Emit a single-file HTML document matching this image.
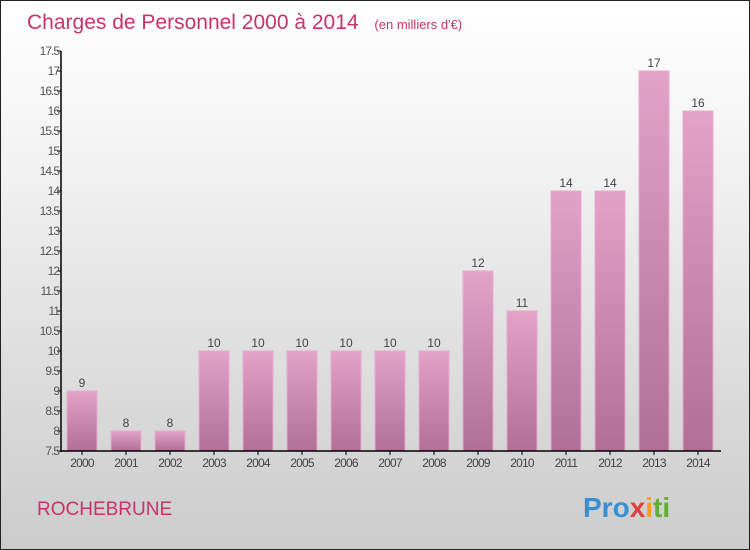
<!DOCTYPE html>
<html><head><meta charset="utf-8"><style>
body{margin:0}
#c{width:748px;height:548px;border:1px solid #222;background:linear-gradient(#ffffff,#f2f2f2 30%,#d6d6d6 80%,#cccccc);position:relative;font-family:"Liberation Sans",sans-serif;overflow:hidden}
</style></head><body>
<div id="c">
<svg id="s" width="748" height="548">
<defs><linearGradient id="g" x1="0" y1="0" x2="0" y2="1"><stop offset="0" stop-color="#e3a3c9"/><stop offset="1" stop-color="#b06f96"/></linearGradient></defs>
<text x="26" y="28" font-size="21" fill="#c8336a">Charges de Personnel 2000 à 2014 <tspan font-size="13" dx="10">(en milliers d'€)</tspan></text>
<text x="36" y="514" font-size="19" fill="#c8336a">ROCHEBRUNE</text>
<text x="582" y="516" font-size="28" font-weight="bold" fill="#3a8fd0">Pro<tspan fill="#e04040">x</tspan><tspan fill="#f0a020">i</tspan><tspan fill="#60b030">ti</tspan></text>
<g id="plot"></g>
</svg></div>
<script>
const years=["2000","2001","2002","2003","2004","2005","2006","2007","2008","2009","2010","2011","2012","2013","2014"];
const values=[9,8,8,10,10,10,10,10,10,12,11,14,14,17,16];
const yTicks=[7.5,8,8.5,9,9.5,10,10.5,11,11.5,12,12.5,13,13.5,14,14.5,15,15.5,16,16.5,17,17.5];
const ns="http://www.w3.org/2000/svg";
const g=document.getElementById('plot');
const y=v=>450-(v-7.5)*40;
const xc=i=>81+i*44;
function el(t,a,txt){const e=document.createElementNS(ns,t);for(const k in a)e.setAttribute(k,a[k]);if(txt!==undefined)e.textContent=txt;g.appendChild(e);return e;}
yTicks.forEach(v=>{
 const l=el('line',{x1:56,x2:60,y1:y(v),y2:y(v),stroke:'#000'});
 
 
 const t=el('text',{x:58,y:y(v)+4,'font-size':12,fill:'#555','text-anchor':'end','letter-spacing':'-1'},String(v));
 
 
});
values.forEach((v,i)=>{
 const r=el('rect',{x:xc(i)-15,y:y(v),width:30,height:450-y(v),fill:'url(#g)',stroke:'#e8a8d0','stroke-width':1});
 
 
 const t=el('text',{x:xc(i),y:y(v)-4,'font-size':12,fill:'#444','text-anchor':'middle'},String(v));
 
 
 const k=el('line',{x1:xc(i),x2:xc(i),y1:450,y2:454,stroke:'#000'});
 
 
 const x=el('text',{x:xc(i),y:466,'font-size':12,fill:'#444','text-anchor':'middle','letter-spacing':'-0.8'},years[i]);
 
 
});
const ya=el('line',{x1:60,x2:60,y1:50,y2:451,stroke:'#000','stroke-width':1.5});


const xa=el('line',{x1:60,x2:720,y1:450,y2:450,stroke:'#000','stroke-width':1.5});


</script></body></html>
